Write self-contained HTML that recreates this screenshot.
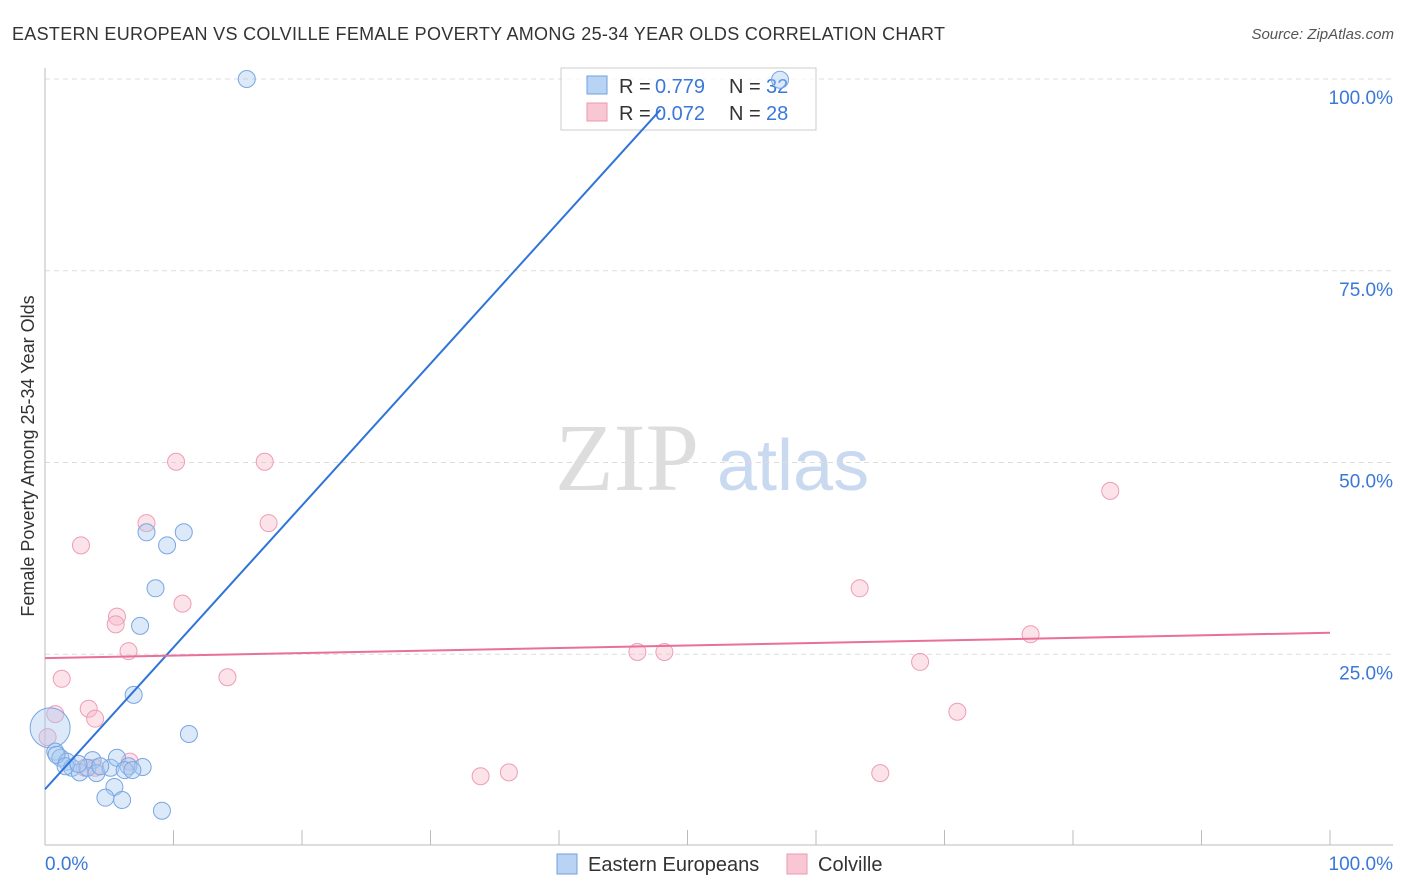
<!DOCTYPE html>
<html><head><meta charset="utf-8"><style>
body{margin:0;background:#fff;font-family:"Liberation Sans",sans-serif}
</style></head><body>
<svg id="c" width="1406" height="892" style="position:absolute;left:0;top:0">
<text x="12" y="40" font-size="18" fill="#333" textLength="933">EASTERN EUROPEAN VS COLVILLE FEMALE POVERTY AMONG 25-34 YEAR OLDS CORRELATION CHART</text>
<text x="1394" y="39" font-size="15" fill="#555" font-style="italic" text-anchor="end">Source: ZipAtlas.com</text>
<text x="34" y="456" font-size="18" fill="#333" text-anchor="middle" transform="rotate(-90 34 456)">Female Poverty Among 25-34 Year Olds</text>
<text x="555" y="490" font-size="96" fill="#ddd" font-family="Liberation Serif">ZIP</text>
<text x="717" y="490" font-size="72" fill="#c9d9f0">atlas</text>
<g id="grid"></g>
<g>
<rect x="561" y="68" width="255" height="62" fill="rgba(255,255,255,0.7)" stroke="#ccc"/>
<rect x="587" y="76" width="20" height="18" fill="#b9d3f5" stroke="#6fa0e0"/>
<rect x="587" y="103" width="20" height="18" fill="#f9c6d4" stroke="#ec98b0"/>
<text x="619" y="93" font-size="20" fill="#333">R =</text><text x="655" y="93" font-size="20" fill="#3a78d8">0.779</text>
<text x="729" y="93" font-size="20" fill="#333">N =</text><text x="766" y="93" font-size="20" fill="#3a78d8">32</text>
<text x="619" y="120" font-size="20" fill="#333">R =</text><text x="655" y="120" font-size="20" fill="#3a78d8">0.072</text>
<text x="729" y="120" font-size="20" fill="#333">N =</text><text x="766" y="120" font-size="20" fill="#3a78d8">28</text>
</g>
<g id="pts"></g><g id="lines"></g>
<g>
<rect x="557" y="854" width="20" height="20" fill="#b9d3f5" stroke="#6fa0e0"/>
<text x="588" y="871" font-size="20" fill="#333">Eastern Europeans</text>
<rect x="787" y="854" width="20" height="20" fill="#f9c6d4" stroke="#ec98b0"/>
<text x="818" y="871" font-size="20" fill="#333">Colville</text>
</g>
</svg>
<script>
const yTicks=[25,50,75,100];
const yTickLabels=["25.0%","50.0%","75.0%","100.0%"];
const blueX=[15.7,57.2,7.9,10.8,9.5,8.6,7.4,6.9,11.2,0.4,0.8,1.2,1.7,2.1,2.7,3.7,3.3,4.0,5.1,5.6,6.5,6.2,7.6,5.4,4.7,6.0,9.1,0.9,1.6,4.3,2.6,6.8];
const blueY=[100,99.9,40.9,40.9,39.2,33.6,28.7,19.7,14.6,15.4,12.3,11.5,11.0,10.2,9.6,11.2,10.2,9.5,10.2,11.5,10.4,9.9,10.3,7.7,6.3,6.0,4.6,11.9,10.4,10.4,10.7,9.9];
const pinkX=[10.2,17.1,7.9,17.4,2.8,10.7,5.6,5.5,6.5,1.3,14.2,0.8,3.4,3.9,0.2,6.6,3.1,46.1,48.2,63.4,82.9,76.7,68.1,71.0,65.0,33.9,36.1,3.9];
const pinkY=[50.1,50.1,42.1,42.1,39.2,31.6,29.9,28.9,25.4,21.8,22.0,17.2,17.9,16.6,14.2,11.0,10.2,25.3,25.3,33.6,46.3,27.6,24.0,17.5,9.5,9.1,9.6,10.2];
const blueLine=[7.4,96.0,47.9];
const pinkLine=[24.5,27.8];
const X=v=>45+v*12.85, Y=v=>846-v*7.67;
const NS="http://www.w3.org/2000/svg";
function mk(t,a,p){const e=document.createElementNS(NS,t);for(const k in a)e.setAttribute(k,a[k]);p.appendChild(e);return e;}
const g=document.getElementById('grid');
yTicks.forEach((t,i)=>{
 const l=mk('line',{x1:45,x2:1393,y1:Y(t),y2:Y(t),stroke:'#ddd','stroke-dasharray':'5,4'},g);
 
 
 const tx=mk('text',{x:1393,y:Y(t)+25,'font-size':19,fill:'#3a78d8','text-anchor':'end'},g);
 tx.textContent=yTickLabels[i];
 
 
});
mk('line',{x1:45,x2:45,y1:68,y2:845,stroke:'#bbb'},g);
mk('line',{x1:45,x2:1393,y1:845,y2:845,stroke:'#bbb'},g);
for(let i=0;i<=10;i++){const t=mk('line',{x1:X(i*10),x2:X(i*10),y1:830,y2:845,stroke:'#bbb'},g);
 
 }
let a=mk('text',{x:45,y:870,'font-size':19,fill:'#3a78d8'},g);a.textContent="0.0%";


a=mk('text',{x:1393,y:870,'font-size':19,fill:'#3a78d8','text-anchor':'end'},g);a.textContent="100.0%";


const p=document.getElementById('pts');
pinkX.forEach((x,i)=>{const c=mk('circle',{cx:X(x),cy:Y(pinkY[i]),r:8.5,fill:'rgba(247,182,200,0.4)',stroke:'#ee9db5'},p);
 
 });
blueX.forEach((x,i)=>{const c=mk('circle',{cx:X(x),cy:Y(blueY[i]),r:i==9?20:8.5,fill:'rgba(168,200,240,0.4)',stroke:'#78a6e2'},p);
 
 });
const L=document.getElementById('lines');
let bl=mk('line',{x1:X(0),y1:Y(blueLine[0]),x2:X(blueLine[2]),y2:Y(blueLine[1]),stroke:'#2f74d8','stroke-width':2},L);


let pl=mk('line',{x1:X(0),y1:Y(pinkLine[0]),x2:X(100),y2:Y(pinkLine[1]),stroke:'#e8709a','stroke-width':2},L);


</script>
</body></html>
